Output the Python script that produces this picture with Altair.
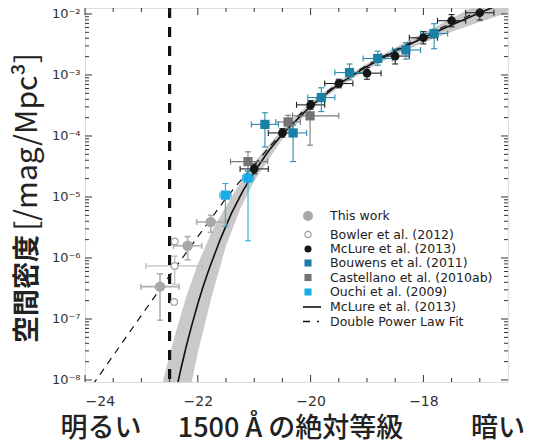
import altair as alt
import pandas as pd

# ---------------- data ----------------
# This work (grey filled circles)
tw_M = [-22.67, -22.18, -21.77]
tw_logphi = [-6.47, -5.80, -5.41]
tw_Mlo = [-23.01, -22.43, -22.02]
tw_Mhi = [-22.33, -21.93, -21.50]
tw_lo = [-7.02, -6.03, -5.58]
tw_hi = [-6.26, -5.65, -5.30]

# Bowler et al. (2012) (open circles)
bw_M = [-22.41, -22.41, -22.42]
bw_logphi = [-5.73, -6.13, -6.72]
bw_err_M = [-22.41]
bw_err_logphi = [-6.13]
bw_err_Mlo = [-22.92]
bw_err_Mhi = [-21.92]
bw_err_lo = [-6.43]
bw_err_hi = [-5.97]

# McLure et al. (2013) (black circles)
mc_M = [-21.0, -20.5, -20.0, -19.5, -19.0, -18.5, -18.0, -17.5, -17.0]
mc_logphi = [-4.54, -3.95, -3.49, -3.14, -2.97, -2.69, -2.39, -2.11, -1.98]
mc_Mlo = [-21.25, -20.75, -20.25, -19.75, -19.25, -18.75, -18.25, -17.75, -17.25]
mc_Mhi = [-20.75, -20.25, -19.75, -19.25, -18.75, -18.25, -17.75, -17.25, -16.75]
mc_lo = [-4.62, -4.02, -3.56, -3.21, -3.07, -2.82, -2.49, -2.21, -2.10]
mc_hi = [-4.46, -3.88, -3.42, -3.07, -2.88, -2.58, -2.29, -2.01, -1.86]

# Bouwens et al. (2011) (teal squares)
bo_M = [-20.81, -20.31, -19.81, -19.31, -18.81, -18.31, -17.81]
bo_logphi = [-3.81, -3.95, -3.37, -2.96, -2.73, -2.59, -2.32]
bo_Mlo = [-21.05, -20.55, -20.05, -19.57, -19.07, -18.55, -18.05]
bo_Mhi = [-20.57, -20.07, -19.57, -19.04, -18.55, -18.05, -17.57]
bo_lo = [-4.18, -4.42, -3.60, -3.08, -2.84, -2.74, -2.57]
bo_hi = [-3.62, -3.82, -3.21, -2.82, -2.61, -2.47, -2.16]

# Castellano et al. (2010ab) (grey squares)
ca_M = [-21.11, -20.40, -20.01]
ca_logphi = [-4.42, -3.77, -3.67]
ca_Mlo = [-21.42, -20.62, -20.32]
ca_Mhi = [-20.76, -20.18, -19.50]
ca_lo = [-4.58, -3.88, -4.15]
ca_hi = [-4.26, -3.66, -3.49]

# Ouchi et al. (2009) (cyan squares)
ou_M = [-21.51, -21.11]
ou_logphi = [-4.97, -4.69]
ou_Mlo = [-21.61, -21.21]
ou_Mhi = [-21.41, -21.01]
ou_lo = [-5.48, -5.72]
ou_hi = [-4.78, -4.56]

# McLure et al. (2013) Schechter curve (solid)
sch_M = [-22.5, -22.4, -22.3, -22.2, -22.1, -22.0, -21.9, -21.8, -21.6, -21.4,
         -21.2, -21.0, -20.75, -20.5, -20.0, -19.5, -19.0, -18.5, -18.0, -17.5,
         -17.0, -16.5]
sch_logphi = [-8.69, -8.24, -7.82, -7.43, -7.08, -6.75, -6.45, -6.18, -5.69, -5.26,
              -4.90, -4.59, -4.25, -3.97, -3.51, -3.15, -2.86, -2.61, -2.39, -2.18,
              -1.98, -1.79]

# grey uncertainty band around the solid curve
band_M = [-22.8, -22.6, -22.4, -22.2, -22.0, -21.75, -21.5, -21.25, -21.0, -20.5,
          -20.0, -19.5, -19.0, -18.5, -18.0, -17.5, -17.0, -16.5]
band_hi = [-9.03, -7.95, -7.25, -6.62, -6.10, -5.56, -5.15, -4.77, -4.43, -3.88,
           -3.45, -3.10, -2.81, -2.55, -2.31, -2.07, -1.83, -1.60]
band_lo = [-11.5, -10.5, -9.34, -8.45, -7.55, -6.62, -5.80, -5.20, -4.74, -4.05,
           -3.56, -3.20, -2.91, -2.67, -2.47, -2.29, -2.13, -1.98]

# Double power law fit (dashed)
dpl_M = [-24.0, -23.5, -23.0, -22.5, -22.0, -21.5, -21.25, -21.0, -20.75, -20.5,
         -20.0, -19.5, -19.0, -18.5, -18.0, -17.5, -17.0, -16.5]
dpl_logphi = [-8.26, -7.60, -6.94, -6.29, -5.65, -5.02, -4.74, -4.48, -4.20, -3.94,
              -3.47, -3.13, -2.84, -2.59, -2.36, -2.15, -1.95, -1.76]

# survey limit (thick vertical dashed line)
limit_M = [-22.5]

# axes
x_label_values = [-24, -22, -20, -18]
x_minor_values = [-23.5, -23.0, -22.5, -21.5, -21.0, -20.5, -19.5, -19.0, -18.5,
                  -17.5, -17.0]
y_exponents = [-8, -7, -6, -5, -4, -3, -2]
y_labels = ["10⁻⁸", "10⁻⁷", "10⁻⁶", "10⁻⁵", "10⁻⁴", "10⁻³", "10⁻²"]

legend_labels = ["This work", "Bowler et al. (2012)", "McLure et al. (2013)",
                 "Bouwens et al. (2011)", "Castellano et al. (2010ab)",
                 "Ouchi et al. (2009)", "McLure et al. (2013)", "Double Power Law Fit"]

# ---------------- layout / style ----------------
W, H = 423, 374
Y_TOP, Y_BOT = -1.902, -8.033
FONT = "DejaVu Sans"
JFONT = "Noto Sans CJK JP"

C_TW = "#a8a8a8"
C_BW = "#a0a0a0"
C_MC = "#151515"
C_BO = "#1b7fa6"
C_CA = "#737373"
C_OU = "#16ade6"

xs = alt.Scale(domain=[-24, -16.5], nice=False, zero=False)
ys = alt.Scale(type="log", domain=[10 ** Y_BOT, 10 ** Y_TOP], nice=False)

label_expr = " : ".join(
    [f"datum.value > {10 ** (e - 0.5):.12f} ? '{l}'" for e, l in
     zip(reversed(y_exponents[1:]), reversed(y_labels[1:]))]
) + f" : '{y_labels[0]}'"

xaxis = alt.Axis(values=x_label_values, title=None, ticks=False, domain=False, grid=False,
                 labelFont=FONT, labelFontSize=14, labelColor="#333", labelPadding=12,
                 format="d")
yaxis = alt.Axis(values=[10.0 ** e for e in y_exponents], title=None, ticks=False,
                 domain=False, grid=False, labelFont=FONT, labelFontSize=13,
                 labelColor="#333", labelPadding=5, labelExpr=label_expr)


def X(f):
    return alt.X(f, type="quantitative", scale=xs, axis=xaxis)


def Y(f):
    return alt.Y(f, type="quantitative", scale=ys, axis=yaxis)


def dataset(M, lp, Mlo, Mhi, lo, hi):
    return pd.DataFrame({
        "M": M, "phi": [10 ** v for v in lp], "Mlo": Mlo, "Mhi": Mhi,
        "philo": [10 ** v for v in lo], "phihi": [10 ** v for v in hi],
    })


def errorbars(df, color, cap=3, width=1.1):
    base = alt.Chart(df)
    h = base.mark_rule(color=color, strokeWidth=width, clip=True).encode(
        x=X("Mlo"), x2="Mhi", y=Y("phi"))
    v = base.mark_rule(color=color, strokeWidth=width, clip=True).encode(
        x=X("M"), y=Y("philo"), y2="phihi")
    c1 = base.mark_rule(color=color, strokeWidth=width, clip=True, yOffset=-cap,
                        y2Offset=cap).encode(x=X("Mlo"), y=Y("phi"), y2="phi")
    c2 = base.mark_rule(color=color, strokeWidth=width, clip=True, yOffset=-cap,
                        y2Offset=cap).encode(x=X("Mhi"), y=Y("phi"), y2="phi")
    c3 = base.mark_rule(color=color, strokeWidth=width, clip=True, xOffset=-cap,
                        x2Offset=cap).encode(x=X("M"), x2="M", y=Y("philo"))
    c4 = base.mark_rule(color=color, strokeWidth=width, clip=True, xOffset=-cap,
                        x2Offset=cap).encode(x=X("M"), x2="M", y=Y("phihi"))
    return [h, v, c1, c2, c3, c4]


tw = dataset(tw_M, tw_logphi, tw_Mlo, tw_Mhi, tw_lo, tw_hi)
bwe = dataset(bw_err_M, bw_err_logphi, bw_err_Mlo, bw_err_Mhi, bw_err_lo, bw_err_hi)
bw = pd.DataFrame({"M": bw_M, "phi": [10 ** v for v in bw_logphi]})
mc = dataset(mc_M, mc_logphi, mc_Mlo, mc_Mhi, mc_lo, mc_hi)
bo = dataset(bo_M, bo_logphi, bo_Mlo, bo_Mhi, bo_lo, bo_hi)
ca = dataset(ca_M, ca_logphi, ca_Mlo, ca_Mhi, ca_lo, ca_hi)
ou = dataset(ou_M, ou_logphi, ou_Mlo, ou_Mhi, ou_lo, ou_hi)

band = pd.DataFrame({"M": band_M, "hi": [10 ** v for v in band_hi],
                     "lo": [10 ** v for v in band_lo]})
sch = pd.DataFrame({"M": sch_M, "phi": [10 ** v for v in sch_logphi]})
dpl = pd.DataFrame({"M": dpl_M, "phi": [10 ** v for v in dpl_logphi]})
lim = pd.DataFrame({"M": limit_M})

layers = []
layers.append(alt.Chart(band).mark_area(color="#c9c9c9", clip=True).encode(
    x=X("M"), y=Y("hi"), y2="lo"))
layers.append(alt.Chart(sch).mark_line(color="#111", strokeWidth=1.6, clip=True).encode(
    x=X("M"), y=Y("phi")))
layers.append(alt.Chart(dpl).mark_line(color="#111", strokeWidth=1.2, strokeDash=[7, 6],
                                       clip=True).encode(x=X("M"), y=Y("phi")))

layers += errorbars(tw, "#b0b0b0", width=1.6)
layers += errorbars(bwe, "#c0c0c0", width=1.4)
layers += errorbars(ca, "#7a7a7a")
layers += errorbars(mc, "#222")
layers += errorbars(bo, "#2a8bb0")
layers += errorbars(ou, "#27b2e8")

layers.append(alt.Chart(lim).mark_rule(color="#111", strokeWidth=3.2, strokeDash=[10, 9]
                                       ).encode(x=X("M")))

layers.append(alt.Chart(tw).mark_point(shape="circle", filled=True, color=C_TW, size=110,
                                       opacity=1, clip=True).encode(x=X("M"), y=Y("phi")))
layers.append(alt.Chart(bw).mark_point(shape="circle", filled=True, fill="white", stroke=C_BW,
                                       strokeWidth=1.2, size=45, opacity=1, clip=True
                                       ).encode(x=X("M"), y=Y("phi")))
layers.append(alt.Chart(ca).mark_point(shape="square", filled=True, color=C_CA, size=85,
                                       opacity=1, clip=True).encode(x=X("M"), y=Y("phi")))
layers.append(alt.Chart(mc).mark_point(shape="circle", filled=True, color=C_MC, size=75,
                                       opacity=1, clip=True).encode(x=X("M"), y=Y("phi")))
layers.append(alt.Chart(bo).mark_point(shape="square", filled=True, color=C_BO, size=85,
                                       opacity=1, clip=True).encode(x=X("M"), y=Y("phi")))
layers.append(alt.Chart(ou).mark_point(shape="square", filled=True, color=C_OU, size=85,
                                       opacity=1, clip=True).encode(x=X("M"), y=Y("phi")))

# inward frame ticks
xmaj = pd.DataFrame({"v": x_label_values})
xmin = pd.DataFrame({"v": x_minor_values})
ymaj = pd.DataFrame({"v": [10.0 ** e for e in y_exponents]})
ymin_vals = []
for e in y_exponents[:-1] + [-2]:
    for k in range(2, 10):
        val = k * 10.0 ** e
        if 10 ** Y_BOT < val < 10 ** Y_TOP:
            ymin_vals.append(val)
ymin = pd.DataFrame({"v": ymin_vals})

tick_col = "#333"
for df, ln in ((xmaj, 7), (xmin, 4)):
    layers.append(alt.Chart(df).mark_rule(color=tick_col, strokeWidth=1).encode(
        x=X("v"), y=alt.value(H), y2=alt.value(H - ln)))
    layers.append(alt.Chart(df).mark_rule(color=tick_col, strokeWidth=1).encode(
        x=X("v"), y=alt.value(0), y2=alt.value(ln)))
for df, ln in ((ymaj, 7), (ymin, 4)):
    layers.append(alt.Chart(df).mark_rule(color=tick_col, strokeWidth=1).encode(
        y=Y("v"), x=alt.value(0), x2=alt.value(ln)))
    layers.append(alt.Chart(df).mark_rule(color=tick_col, strokeWidth=1).encode(
        y=Y("v"), x=alt.value(W), x2=alt.value(W - ln)))

# legend
one = pd.DataFrame({"a": [0]})
LX_SYM, LX_TXT = 223, 245
rows_y = [208, 226.5, 241, 255, 269.5, 284, 299, 313.5]
sym_specs = [("circle", C_TW, 100, None), ("circle", "white", 40, C_BW),
             ("circle", C_MC, 50, None), ("square", C_BO, 50, None),
             ("square", C_CA, 50, None), ("square", C_OU, 50, None)]
for (shape, col, size, stroke), yy in zip(sym_specs, rows_y[:6]):
    kw = dict(shape=shape, filled=True, fill=col, size=size, opacity=1)
    if stroke:
        kw.update(stroke=stroke, strokeWidth=1.2)
    else:
        kw.update(strokeWidth=0)
    layers.append(alt.Chart(one).mark_point(**kw).encode(
        x=alt.value(LX_SYM), y=alt.value(yy)))
layers.append(alt.Chart(one).mark_rule(color="#111", strokeWidth=1.6).encode(
    x=alt.value(LX_SYM - 5), x2=alt.value(LX_SYM + 13), y=alt.value(rows_y[6])))
layers.append(alt.Chart(one).mark_rule(color="#111", strokeWidth=1.6,
                                       strokeDash=[7, 7, 2, 10]).encode(
    x=alt.value(LX_SYM - 5), x2=alt.value(LX_SYM + 13), y=alt.value(rows_y[7])))
for lab, yy in zip(legend_labels, rows_y):
    layers.append(alt.Chart(one).mark_text(align="left", baseline="middle", font=FONT,
                                           fontSize=12.5, color="#222").encode(
        x=alt.value(LX_TXT), y=alt.value(yy), text=alt.value(lab)))

# titles drawn as text
layers.append(alt.Chart(one).mark_text(align="center", baseline="middle", font=JFONT,
                                       fontSize=27, fontWeight="bold", angle=270,
                                       color="#222").encode(
    x=alt.value(-57), y=alt.value(281), text=alt.value("空間密度")))
layers.append(alt.Chart(one).mark_text(align="center", baseline="middle", font=JFONT,
                                       fontSize=30, angle=270, color="#222").encode(
    x=alt.value(-57), y=alt.value(134), text=alt.value("[/mag/Mpc³]")))
for txt, xx in (("明るい", 16), ("1500 Å の絶対等級", 205.5), ("暗い", 413)):
    layers.append(alt.Chart(one).mark_text(align="center", baseline="middle", font=JFONT,
                                           fontSize=27, fontWeight=500, color="#222").encode(
        x=alt.value(xx), y=alt.value(421), text=alt.value(txt)))

chart = alt.layer(*layers).properties(
    width=W, height=H,
    autosize=alt.AutoSizeParams(type="none"),
    padding={"left": 77, "top": 0, "right": 20, "bottom": 58},
).configure_view(stroke="#222", strokeWidth=1.2).configure(background="white")

chart.save("out.html", embed_options={"renderer": "svg", "actions": False})
